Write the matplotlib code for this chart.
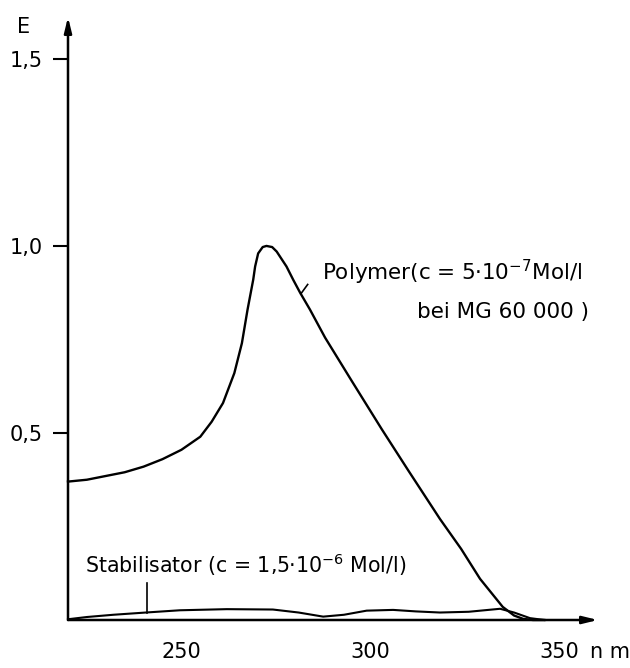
import matplotlib
matplotlib.use("Agg")
import matplotlib.pyplot as plt

# Data (wavelength in nm, extinction E)
polymer_nm = [220, 225, 230, 235, 240, 245, 250, 255, 258, 261, 264, 266, 267.5, 269, 269.5,
              270.3, 271.5, 272.5, 274, 275.2, 277.8, 279.6, 281.4, 284, 288, 295, 303, 310,
              318.4, 324, 329, 333, 335, 338, 340.4, 343, 346]
polymer_E = [0.37, 0.375, 0.385, 0.395, 0.41, 0.43, 0.455, 0.49, 0.53, 0.58, 0.66, 0.74, 0.83,
             0.91, 0.945, 0.98, 0.997, 1.0, 0.997, 0.985, 0.945, 0.909, 0.875, 0.83, 0.755,
             0.64, 0.51, 0.40, 0.27, 0.19, 0.11, 0.06, 0.035, 0.012, 0.003, 0.0, 0.0]

stab_nm = [220, 225, 232, 240.6, 249.6, 262, 274.2, 281, 287.5, 293, 299, 306, 312, 318.4,
           326, 334.3, 338, 342.2, 346]
stab_E = [0.002, 0.008, 0.014, 0.02, 0.026, 0.029, 0.028, 0.02, 0.009, 0.014, 0.025, 0.027,
          0.023, 0.02, 0.022, 0.03, 0.02, 0.005, 0.0]

y_ticks = [0.5, 1.0, 1.5]
y_ticklabels = ["0,5", "1,0", "1,5"]
x_labels = [(250, "250"), (300, "300"), (350, "350")]

W, H = 630, 668
fig = plt.figure(figsize=(W / 100, H / 100), dpi=100)
x0, x1 = 220, 360.2
y0, y1 = 0, 1.612
ax = fig.add_axes([68 / W, (H - 620) / H, (598 - 68) / W, (620 - 17) / H])
ax.set_xlim(x0, x1)
ax.set_ylim(y0, y1)

for s in ["top", "right", "left", "bottom"]:
    ax.spines[s].set_visible(False)

lw_axis = 1.8
ax.annotate("", xy=(x1, 0), xytext=(x0, 0), xycoords="data",
            arrowprops=dict(arrowstyle="-|>,head_length=0.9,head_width=0.22",
                            color="black", lw=lw_axis, shrinkA=0, shrinkB=0),
            annotation_clip=False)
ax.annotate("", xy=(x0, y1), xytext=(x0, 0), xycoords="data",
            arrowprops=dict(arrowstyle="-|>,head_length=0.9,head_width=0.22",
                            color="black", lw=lw_axis, shrinkA=0, shrinkB=0),
            annotation_clip=False)

ax.set_xticks([])
ax.set_yticks(y_ticks)
ax.set_yticklabels(y_ticklabels)
ax.tick_params(axis="y", direction="out", length=11, width=1.5, pad=7, labelsize=15)

ax.plot(polymer_nm, polymer_E, color="black", lw=1.7, clip_on=False,
        solid_joinstyle="round")
ax.plot(stab_nm, stab_E, color="black", lw=1.5, clip_on=False,
        solid_joinstyle="round")

fs = 15
for v, t in x_labels:
    ax.text(v, -0.085, t, ha="center", va="center", fontsize=fs)
ax.text(358.1, -0.085, "n m", ha="left", va="center", fontsize=fs)

fig.text(24 / W, 1 - 27 / H, "E", ha="center", va="center", fontsize=fs)

# Polymer label
ax.plot([281.6, 283.4], [0.872, 0.897], color="black", lw=1.2)
ax.text(287.2, 0.93, "Polymer(c = 5·10$^{-7}$Mol/l", ha="left", va="center", fontsize=15.5)
ax.text(312.3, 0.823, "bei MG 60 000 )", ha="left", va="center", fontsize=15.5)

# Stabilisator label
ax.plot([241.0, 241.0], [0.02, 0.10], color="black", lw=1.2)
ax.text(224.5, 0.147, "Stabilisator (c = 1,5·10$^{-6}$ Mol/l)", ha="left", va="center", fontsize=14.8)

fig.savefig("out.png", dpi=100)
